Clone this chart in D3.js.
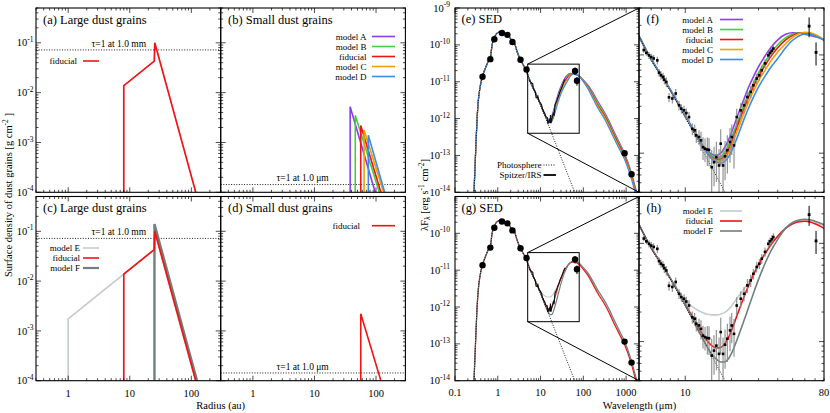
<!DOCTYPE html>
<html lang="en">
<head>
<meta charset="UTF-8" />
<title>Dust surface density and SED models</title>
<script src="https://d3js.org/d3.v7.min.js"></script>
<style>
  body { margin: 0; background: #ffffff; }
  svg { display: block; }
  svg text { font-family: "Liberation Serif", "Times New Roman", Times, "DejaVu Serif", serif; }
  .frame { fill: none; stroke: #000; stroke-width: 1.1; }
  .tick { stroke: #000; stroke-width: 0.7; }
  .tick-label { font-size: 10.5px; }
  .title { font-size: 12.5px; }
  .legend { font-size: 9px; }
  .axis-title { font-size: 10.5px; }
</style>
</head>
<body>
<svg id="chart" width="830" height="413"></svg>
<script>
// ---------- surface density profiles (radius in au, sigma in g cm^-2) ----------
const radiusDomain = [0.3, 300];
const sigmaDomain = [1e-4, 0.5];
const tauLarge = 0.072;     // tau=1 at 1.0 mm
const tauSmall = 1.43e-4;   // tau=1 at 1.0 um

const largeFidR = [8, 8, 25, 25.5, 118];
const largeFidS = [1e-4, 0.0138, 0.043, 0.1, 1e-4];
const largeER = [1, 1, 25, 25.5, 118];
const largeES = [1e-4, 1.74e-3, 0.043, 0.1, 1e-4];
const largeFR = [25.2, 25.2, 124];
const largeFS = [1e-4, 0.14, 1e-4];

const smallAR = [38, 38, 97];     const smallAS = [1e-4, 5.2e-3, 1e-4];
const smallBR = [46, 46, 113];    const smallBS = [1e-4, 3.5e-3, 1e-4];
const smallFidR = [56.5, 56.5, 120]; const smallFidS = [1e-4, 2.2e-3, 1e-4];
const smallCR = [64, 64, 133];    const smallCS = [1e-4, 1.77e-3, 1e-4];
const smallDR = [75, 75, 138];    const smallDS = [1e-4, 1.4e-3, 1e-4];

// ---------- SED (wavelength in um, lambda F_lambda in erg s^-1 cm^-2) ----------
const sedWlDomain = [0.1, 2000];
const sedFDomain = [1e-14, 1e-9];
const zoomWlDomain = [5, 80];
const zoomFDomain = [4e-13, 3e-11];

// stellar part shared by all models
const starWl = [0.27, 0.278, 0.304, 0.326, 0.35, 0.383, 0.435, 0.5, 0.6, 0.67, 0.74, 0.83, 0.99, 1.23, 1.47, 1.76, 2.03, 2.35, 2.8, 3.34, 3.9, 4.6];
const starF = [5e-15, 1e-14, 1.3e-13, 8.5e-13, 2.96e-12, 6.8e-12, 1.35e-11, 2.14e-11, 3.6e-11, 4.5e-11, 1.03e-10, 1.56e-10, 2.13e-10, 2.28e-10, 2.0e-10, 1.85e-10, 1.4e-10, 1.27e-10, 6.8e-11, 4.0e-11, 2.93e-11, 2.0e-11];

// photosphere tail beyond 5 um
const photTailWl = [5, 6, 7, 8, 10, 12, 15, 20, 30, 45, 60, 70];
const photTailF = [1.55e-11, 8.9e-12, 6.0e-12, 4.3e-12, 2.3e-12, 1.35e-12, 7.0e-13, 3.0e-13, 9.0e-14, 2.7e-14, 1.15e-14, 7.3e-15];

// model totals from 5 um on
const wlGrid = [5, 6, 7, 8, 9, 10, 11, 12, 13, 14, 15, 16, 17, 18, 19, 20, 22, 24, 26, 28, 30, 33, 36, 40, 45, 50, 55, 60, 65, 70, 80, 100, 130, 170, 220, 300, 400, 500, 700, 900, 1300, 1700, 2000];
const fluxFid = [1.55e-11, 9.0e-12, 6.2e-12, 4.4e-12, 3.2e-12, 2.4e-12, 1.85e-12, 1.45e-12, 1.18e-12, 1.0e-12, 9.0e-13, 8.6e-13, 8.7e-13, 9.4e-13, 1.08e-12, 1.3e-12, 1.95e-12, 2.8e-12, 3.8e-12, 4.9e-12, 6.1e-12, 7.8e-12, 9.6e-12, 1.18e-11, 1.42e-11, 1.58e-11, 1.66e-11, 1.68e-11, 1.65e-11, 1.58e-11, 1.42e-11, 1.05e-11, 7.0e-12, 4.0e-12, 2.3e-12, 1.3e-12, 7.0e-13, 4.0e-13, 1.8e-13, 1.0e-13, 3.1e-14, 1.0e-14, 6.0e-15];
const fluxA = [1.55e-11, 9.0e-12, 6.2e-12, 4.4e-12, 3.2e-12, 2.4e-12, 1.85e-12, 1.45e-12, 1.2e-12, 1.05e-12, 9.7e-13, 9.5e-13, 1.0e-12, 1.13e-12, 1.33e-12, 1.62e-12, 2.45e-12, 3.5e-12, 4.8e-12, 6.15e-12, 7.6e-12, 9.7e-12, 1.18e-11, 1.42e-11, 1.62e-11, 1.68e-11, 1.67e-11, 1.62e-11, 1.58e-11, 1.53e-11, 1.43e-11, 1.12e-11, 8.0e-12, 4.9e-12, 2.9e-12, 1.6e-12, 8.6e-13, 4.9e-13, 2.2e-13, 1.2e-13, 3.7e-14, 1.2e-14, 7.0e-15];
const fluxB = [1.55e-11, 9.0e-12, 6.2e-12, 4.4e-12, 3.2e-12, 2.4e-12, 1.85e-12, 1.45e-12, 1.19e-12, 1.02e-12, 9.3e-13, 9.0e-13, 9.2e-13, 1.01e-12, 1.18e-12, 1.42e-12, 2.12e-12, 3.04e-12, 4.12e-12, 5.3e-12, 6.6e-12, 8.45e-12, 1.04e-11, 1.27e-11, 1.5e-11, 1.63e-11, 1.67e-11, 1.66e-11, 1.62e-11, 1.56e-11, 1.42e-11, 1.08e-11, 7.5e-12, 4.4e-12, 2.6e-12, 1.45e-12, 7.8e-13, 4.4e-13, 2.0e-13, 1.1e-13, 3.4e-14, 1.1e-14, 6.5e-15];
const fluxC = [1.55e-11, 9.0e-12, 6.2e-12, 4.4e-12, 3.2e-12, 2.4e-12, 1.85e-12, 1.45e-12, 1.17e-12, 9.9e-13, 8.8e-13, 8.4e-13, 8.3e-13, 8.8e-13, 9.9e-13, 1.18e-12, 1.74e-12, 2.5e-12, 3.4e-12, 4.37e-12, 5.45e-12, 6.95e-12, 8.6e-12, 1.07e-11, 1.3e-11, 1.51e-11, 1.64e-11, 1.70e-11, 1.68e-11, 1.61e-11, 1.43e-11, 1.03e-11, 6.7e-12, 3.7e-12, 2.1e-12, 1.18e-12, 6.3e-13, 3.6e-13, 1.6e-13, 9.0e-14, 2.8e-14, 9.2e-15, 5.5e-15];
const fluxD = [1.55e-11, 9.0e-12, 6.2e-12, 4.4e-12, 3.2e-12, 2.4e-12, 1.85e-12, 1.45e-12, 1.17e-12, 9.8e-13, 8.6e-13, 8.1e-13, 7.9e-13, 8.2e-13, 9.0e-13, 1.05e-12, 1.5e-12, 2.17e-12, 2.95e-12, 3.8e-12, 4.73e-12, 6.05e-12, 7.45e-12, 9.2e-12, 1.18e-11, 1.41e-11, 1.56e-11, 1.63e-11, 1.62e-11, 1.56e-11, 1.41e-11, 1.0e-11, 6.3e-12, 3.4e-12, 1.9e-12, 1.05e-12, 5.6e-13, 3.2e-13, 1.45e-13, 8.2e-14, 2.5e-14, 8.5e-15, 5.0e-15];
const fluxE = [1.55e-11, 9.0e-12, 6.2e-12, 4.4e-12, 3.3e-12, 2.6e-12, 2.3e-12, 2.1e-12, 1.97e-12, 1.9e-12, 1.87e-12, 1.87e-12, 1.9e-12, 1.97e-12, 2.1e-12, 2.3e-12, 2.85e-12, 3.4e-12, 4.1e-12, 5.0e-12, 6.15e-12, 7.85e-12, 9.65e-12, 1.19e-11, 1.44e-11, 1.61e-11, 1.7e-11, 1.73e-11, 1.71e-11, 1.65e-11, 1.5e-11, 1.13e-11, 7.7e-12, 4.5e-12, 2.6e-12, 1.48e-12, 8.0e-13, 4.6e-13, 2.05e-13, 1.14e-13, 3.5e-14, 1.15e-14, 6.8e-15];
const fluxF = [1.55e-11, 9.0e-12, 6.2e-12, 4.4e-12, 3.2e-12, 2.35e-12, 1.78e-12, 1.35e-12, 1.07e-12, 8.7e-13, 7.3e-13, 6.6e-13, 6.2e-13, 6.2e-13, 6.6e-13, 7.6e-13, 1.1e-12, 1.6e-12, 2.3e-12, 3.2e-12, 4.3e-12, 6.2e-12, 8.3e-12, 1.1e-11, 1.43e-11, 1.63e-11, 1.73e-11, 1.76e-11, 1.74e-11, 1.68e-11, 1.55e-11, 1.18e-11, 8.2e-12, 4.9e-12, 2.85e-12, 1.62e-12, 8.8e-13, 5.0e-13, 2.25e-13, 1.25e-13, 3.8e-14, 1.25e-14, 7.3e-15];

// Spitzer/IRS spectrum
const irsWl = [5.37, 5.58, 5.81, 6.01, 6.23, 6.58, 6.75, 6.95, 7.17, 7.31, 7.53, 7.84, 8.24, 8.67, 9.11, 9.43, 9.82, 10.16, 10.58, 11.12, 11.52, 11.8, 12.29, 12.66, 13.05, 13.45, 13.92, 14.28, 14.87, 15.39, 15.94, 16.59, 17.02, 17.62, 18.16, 18.79, 19.56, 20.07, 20.77, 21.63, 22.97, 24.13, 25.36, 26.68, 27.74, 29.19, 30.36, 31.47, 33.06, 34.74, 35.64, 36.56, 37.44];
const irsF = [1.12e-11, 1.05e-11, 9.9e-12, 9.5e-12, 9.2e-12, 8.8e-12, 6.6e-12, 6.2e-12, 5.97e-12, 5.6e-12, 5.3e-12, 3.7e-12, 3.6e-12, 4.05e-12, 3.07e-12, 2.84e-12, 2.73e-12, 2.56e-12, 2.33e-12, 1.77e-12, 1.71e-12, 1.52e-12, 1.46e-12, 1.35e-12, 1.15e-12, 1.11e-12, 1.09e-12, 1.08e-12, 7.2e-13, 8.1e-13, 9.1e-13, 7.5e-13, 1.25e-12, 7.5e-13, 9.3e-13, 1.07e-12, 1.3e-12, 1.46e-12, 1.2e-12, 2.33e-12, 2.73e-12, 3.07e-12, 3.73e-12, 4.2e-12, 4.9e-12, 5.75e-12, 6.2e-12, 6.98e-12, 8.2e-12, 9.9e-12, 1.05e-11, 1.1e-11, 1.16e-11];
const irsErr = [0.7e-12, 0.7e-12, 0.8e-12, 0.8e-12, 0.8e-12, 0.8e-12, 0.6e-12, 0.6e-12, 0.6e-12, 0.6e-12, 0.6e-12, 0.4e-12, 0.4e-12, 0.45e-12, 0.35e-12, 0.3e-12, 0.3e-12, 0.3e-12, 0.3e-12, 0.25e-12, 0.25e-12, 0.25e-12, 0.25e-12, 0.3e-12, 0.3e-12, 0.3e-12, 0.35e-12, 0.35e-12, 0.35e-12, 0.35e-12, 0.4e-12, 0.35e-12, 0.5e-12, 0.35e-12, 0.4e-12, 0.45e-12, 0.5e-12, 0.5e-12, 0.5e-12, 0.5e-12, 0.5e-12, 0.5e-12, 0.6e-12, 0.6e-12, 0.6e-12, 0.7e-12, 0.7e-12, 0.8e-12, 0.9e-12, 1.0e-12, 1.0e-12, 1.1e-12, 1.1e-12];

// photometry
const photWl = [0.44, 0.67, 0.83, 1.25, 1.68, 2.2, 3.4, 4.7, 64, 71, 920, 1340];
const photF = [1.37e-11, 4.1e-11, 1.42e-10, 2.1e-10, 1.87e-10, 1.2e-10, 3.95e-11, 2.15e-11, 1.96e-11, 1.06e-11, 1.15e-13, 3.1e-14];
const photErr = [0, 0, 0, 0, 0, 0, 0, 0, 4.5e-12, 2.8e-12, 0, 0];

const colors = { A: "#8c3cf0", B: "#3cd23c", fid: "#f01414", C: "#f0a000", D: "#3c8ce6", E: "#c4cccc", F: "#6e8080" };

// ---------- helpers ----------
const svg = d3.select("#chart");
const defs = svg.append("defs");
let clipCount = 0;

function panel(box, xDomain, yDomain) {
  const [x0, x1, y0, y1] = box;
  const x = d3.scaleLog().domain(xDomain).range([x0, x1]);
  const y = d3.scaleLog().domain(yDomain).range([y1, y0]);
  const id = "clip" + clipCount++;
  defs.append("clipPath").attr("id", id).append("rect")
    .attr("x", x0).attr("y", y0).attr("width", x1 - x0).attr("height", y1 - y0);
  const plot = svg.append("g").attr("clip-path", `url(#${id})`);
  return { x, y, plot, box };
}

function logTicks(domain) {
  const out = [];
  const lo = Math.floor(Math.log10(domain[0])), hi = Math.ceil(Math.log10(domain[1]));
  for (let k = lo; k <= hi; k++) {
    for (let m = 1; m <= 9; m++) {
      const v = m * Math.pow(10, k);
      if (v >= domain[0] * 0.999 && v <= domain[1] * 1.001) out.push({ v, major: m === 1 });
    }
  }
  return out;
}

function frame(p) {
  const [x0, x1, y0, y1] = p.box;
  const g = svg.append("g");
  logTicks(p.x.domain()).forEach(t => {
    const px = p.x(t.v), len = t.major ? 5 : 2.5;
    g.append("line").attr("class", "tick").attr("x1", px).attr("x2", px).attr("y1", y1).attr("y2", y1 - len);
    g.append("line").attr("class", "tick").attr("x1", px).attr("x2", px).attr("y1", y0).attr("y2", y0 + len);
  });
  logTicks(p.y.domain()).forEach(t => {
    const py = p.y(t.v), len = t.major ? 5 : 2.5;
    g.append("line").attr("class", "tick").attr("x1", x0).attr("x2", x0 + len).attr("y1", py).attr("y2", py);
    g.append("line").attr("class", "tick").attr("x1", x1).attr("x2", x1 - len).attr("y1", py).attr("y2", py);
  });
  g.append("rect").attr("class", "frame")
    .attr("x", x0).attr("y", y0).attr("width", x1 - x0).attr("height", y1 - y0);
}

function yDecades(p, exps, xRight) {
  exps.forEach(e => {
    const t = svg.append("text").attr("class", "tick-label")
      .attr("x", xRight).attr("y", p.y(Math.pow(10, e)) + 3.6).attr("text-anchor", "end");
    t.append("tspan").text("10");
    t.append("tspan").attr("dy", -4.5).attr("font-size", 7.5).text(String(e));
  });
}

function xLabels(p, vals, texts, yBase) {
  vals.forEach((v, i) => {
    svg.append("text").attr("class", "tick-label")
      .attr("x", p.x(v)).attr("y", yBase).attr("text-anchor", "middle").text(texts[i]);
  });
}

function title(x, y, txt) {
  svg.append("text").attr("class", "title").attr("x", x).attr("y", y).text(txt);
}

function legend(items, xText, y0, dy, lx0, lx1) {
  items.forEach((it, i) => {
    const y = y0 + i * dy;
    svg.append("text").attr("class", "legend").attr("x", xText).attr("y", y + 3.1)
      .attr("text-anchor", "end").text(it.name);
    svg.append("line").attr("x1", lx0).attr("x2", lx1).attr("y1", y).attr("y2", y)
      .attr("stroke", it.color).attr("stroke-width", it.width || 1.6)
      .attr("stroke-dasharray", it.dash || null);
  });
}

const pairs = (xs, ys) => xs.map((v, i) => [v, ys[i]]);

function drawPoly(p, xs, ys, color, w) {
  const line = d3.line().x(d => p.x(d[0])).y(d => p.y(d[1]));
  p.plot.append("path").datum(pairs(xs, ys)).attr("d", line)
    .attr("fill", "none").attr("stroke", color).attr("stroke-width", w);
}

function drawHLine(p, v) {
  const [x0, x1] = p.x.range();
  p.plot.append("line").attr("x1", x0).attr("x2", x1).attr("y1", p.y(v)).attr("y2", p.y(v))
    .attr("stroke", "#000").attr("stroke-width", 0.9).attr("stroke-dasharray", "1,1.6");
}

function tauText(x, y, unit) {
  svg.append("text").attr("class", "legend").attr("x", x).attr("y", y)
    .style("font-size", "9.5px").text("\u03c4=1 at 1.0 " + unit);
}

// ---------- layout ----------
const rowTop = [8, 192.3], rowBot = [196.5, 380.7];
const colA = [36, 220.7], colB = [220.7, 405.4], colE = [455, 639], colF = [639, 824];

// ---------- left block: surface densities ----------
const pa = panel([colA[0], colA[1], rowTop[0], rowTop[1]], radiusDomain, sigmaDomain);
const pb = panel([colB[0], colB[1], rowTop[0], rowTop[1]], radiusDomain, sigmaDomain);
const pc = panel([colA[0], colA[1], rowBot[0], rowBot[1]], radiusDomain, sigmaDomain);
const pd = panel([colB[0], colB[1], rowBot[0], rowBot[1]], radiusDomain, sigmaDomain);

drawHLine(pa, tauLarge); drawHLine(pc, tauLarge);
drawHLine(pb, tauSmall); drawHLine(pd, tauSmall);

drawPoly(pa, largeFidR, largeFidS, colors.fid, 1.7);

drawPoly(pb, smallAR, smallAS, colors.A, 1.6);
drawPoly(pb, smallBR, smallBS, colors.B, 1.6);
drawPoly(pb, smallFidR, smallFidS, colors.fid, 1.6);
drawPoly(pb, smallCR, smallCS, colors.C, 1.6);
drawPoly(pb, smallDR, smallDS, colors.D, 1.6);

drawPoly(pc, largeER, largeES, colors.E, 1.7);
drawPoly(pc, largeFR, largeFS, colors.F, 2.4);
drawPoly(pc, largeFidR, largeFidS, colors.fid, 1.7);

drawPoly(pd, smallFidR, smallFidS, colors.fid, 1.6);

[pa, pb, pc, pd].forEach(frame);

yDecades(pa, [-1, -2, -3, -4], 33.5);
yDecades(pc, [-1, -2, -3, -4], 33.5);
xLabels(pc, [1, 10, 100], ["1", "10", "100"], 396.5);
xLabels(pd, [1, 10, 100], ["1", "10", "100"], 396.5);

title(43, 23.5, "(a) Large dust grains");
title(228, 23.5, "(b) Small dust grains");
title(43, 212, "(c) Large dust grains");
title(228, 212, "(d) Small dust grains");

tauText(91.5, 46.5, "mm");
tauText(91.5, 234.8, "mm");
tauText(276.5, 180.5, "\u03bcm");
tauText(276.5, 369.5, "\u03bcm");

legend([{ name: "fiducial", color: colors.fid }], 77, 61, 10, 83, 99);
legend([
  { name: "model A", color: colors.A }, { name: "model B", color: colors.B },
  { name: "fiducial", color: colors.fid }, { name: "model C", color: colors.C },
  { name: "model D", color: colors.D }
], 366.5, 36.5, 10, 372, 395);
legend([
  { name: "model E", color: colors.E }, { name: "fiducial", color: colors.fid },
  { name: "model F", color: colors.F, width: 2.2 }
], 80, 248, 10, 83, 99);
legend([{ name: "fiducial", color: colors.fid }], 360, 225.7, 10, 372, 395);

// axis titles, left block
const yl = svg.append("text").attr("class", "axis-title").attr("text-anchor", "middle")
  .attr("transform", "translate(11.5,195) rotate(-90)");
yl.append("tspan").text("Surface density of dust grains [g cm");
yl.append("tspan").attr("dy", -4).attr("font-size", 7.5).text("-2");
yl.append("tspan").attr("dy", 4).text(" ]");
svg.append("text").attr("class", "axis-title").attr("x", 220.7).attr("y", 408.5)
  .attr("text-anchor", "middle").text("Radius (au)");

// ---------- right block: SEDs ----------
const pe = panel([colE[0], colE[1], rowTop[0], rowTop[1]], sedWlDomain, sedFDomain);
const pf = panel([colF[0], colF[1], rowTop[0], rowTop[1]], zoomWlDomain, zoomFDomain);
const pg = panel([colE[0], colE[1], rowBot[0], rowBot[1]], sedWlDomain, sedFDomain);
const ph = panel([colF[0], colF[1], rowBot[0], rowBot[1]], zoomWlDomain, zoomFDomain);

const starPart = pairs(starWl, starF);
const modelSeries = f => starPart.concat(pairs(wlGrid, f));
const photosphere = starPart.concat(pairs(photTailWl, photTailF));
const irs = irsWl.map((w, i) => ({ w, f: irsF[i], e: irsErr[i] }));
const phot = photWl.map((w, i) => ({ w, f: photF[i], e: photErr[i] }));

function curve(p, data, color, w, dash) {
  const line = d3.line().x(d => p.x(d[0])).y(d => p.y(d[1])).curve(d3.curveMonotoneX);
  p.plot.append("path").datum(data).attr("d", line).attr("fill", "none")
    .attr("stroke", color).attr("stroke-width", w).attr("stroke-dasharray", dash || null);
}

function wideSed(p, models) {
  models.forEach(m => curve(p, modelSeries(m.f), m.color, 1.2));
  const irsLine = d3.line().x(d => p.x(d.w)).y(d => p.y(d.f));
  p.plot.append("path").datum(irs).attr("d", irsLine).attr("fill", "none")
    .attr("stroke", "#111").attr("stroke-width", 1.1);
  curve(p, photosphere, "#000", 0.9, "1,1.5");
  phot.filter(d => d.e > 0).forEach(d => {
    p.plot.append("line").attr("x1", p.x(d.w)).attr("x2", p.x(d.w))
      .attr("y1", p.y(d.f - d.e)).attr("y2", p.y(d.f + d.e)).attr("stroke", "#000").attr("stroke-width", 1);
  });
  p.plot.selectAll("circle.phot").data(phot).join("circle").attr("class", "phot")
    .attr("cx", d => p.x(d.w)).attr("cy", d => p.y(d.f)).attr("r", 3.2).attr("fill", "#000");
  // zoom box and connectors
  const bx0 = p.x(zoomWlDomain[0]), bx1 = p.x(zoomWlDomain[1]);
  const by0 = p.y(zoomFDomain[1]), by1 = p.y(zoomFDomain[0]);
  const [x0, x1] = p.x.range(), [yb, yt] = p.y.range();
  svg.append("rect").attr("x", bx0).attr("y", by0).attr("width", bx1 - bx0).attr("height", by1 - by0)
    .attr("fill", "none").attr("stroke", "#000").attr("stroke-width", 1);
  svg.append("line").attr("x1", bx0).attr("y1", by0).attr("x2", x1).attr("y2", yt)
    .attr("stroke", "#000").attr("stroke-width", 1);
  svg.append("line").attr("x1", bx0).attr("y1", by1).attr("x2", x1).attr("y2", yb)
    .attr("stroke", "#000").attr("stroke-width", 1);
}

function zoomSed(p, models) {
  models.forEach(m => curve(p, modelSeries(m.f), m.color, 1.6));
  curve(p, photosphere, "#000", 0.9, "1,1.5");
  irs.forEach(d => {
    p.plot.append("line").attr("x1", p.x(d.w)).attr("x2", p.x(d.w))
      .attr("y1", p.y(Math.max(d.f - d.e, 1e-14))).attr("y2", p.y(d.f + d.e))
      .attr("stroke", "#8a8a8a").attr("stroke-width", 1.1);
  });
  p.plot.selectAll("rect.irs").data(irs).join("rect").attr("class", "irs")
    .attr("x", d => p.x(d.w) - 1.3).attr("y", d => p.y(d.f) - 1.3)
    .attr("width", 2.6).attr("height", 2.6).attr("fill", "#000");
  phot.filter(d => d.e > 0).forEach(d => {
    p.plot.append("line").attr("x1", p.x(d.w)).attr("x2", p.x(d.w))
      .attr("y1", p.y(d.f - d.e)).attr("y2", p.y(d.f + d.e)).attr("stroke", "#000").attr("stroke-width", 1);
    p.plot.append("rect").attr("x", p.x(d.w) - 1.4).attr("y", p.y(d.f) - 1.4)
      .attr("width", 2.8).attr("height", 2.8).attr("fill", "#000");
  });
}

const topModels = [
  { name: "model A", f: fluxA, color: colors.A }, { name: "model B", f: fluxB, color: colors.B },
  { name: "fiducial", f: fluxFid, color: colors.fid }, { name: "model C", f: fluxC, color: colors.C },
  { name: "model D", f: fluxD, color: colors.D }
];
const botModels = [
  { name: "model E", f: fluxE, color: colors.E }, { name: "fiducial", f: fluxFid, color: colors.fid },
  { name: "model F", f: fluxF, color: colors.F }
];

wideSed(pe, topModels);
zoomSed(pf, topModels);
wideSed(pg, botModels);
zoomSed(ph, botModels);

[pe, pf, pg, ph].forEach(frame);

yDecades(pe, [-9, -10, -11, -12, -13, -14], 450);
yDecades(pg, [-10, -11, -12, -13, -14], 450);
xLabels(pg, [0.1, 1, 10, 100, 1000], ["0.1", "1", "10", "100", "1000"], 396);
xLabels(ph, [10, 80], ["10", "80"], 396);

title(461.5, 23, "(e) SED");
title(646.5, 23, "(f)");
title(461.5, 212, "(g) SED");
title(646.5, 212, "(h)");

legend([
  { name: "Photosphere", color: "#000", width: 0.9, dash: "1,1.5" },
  { name: "Spitzer/IRS", color: "#000", width: 1.8 }
], 541.5, 165, 10, 543.5, 556);
legend(topModels.map(m => ({ name: m.name, color: m.color })), 713, 19.5, 10, 720, 743);
legend(botModels.map(m => ({ name: m.name, color: m.color })), 713, 211, 10, 720, 742);

const yr = svg.append("text").attr("class", "axis-title").attr("text-anchor", "middle")
  .attr("transform", "translate(427.5,195) rotate(-90)");
yr.append("tspan").text("\u03bbF");
yr.append("tspan").attr("dy", 2.5).attr("font-size", 7.5).text("\u03bb");
yr.append("tspan").attr("dy", -2.5).text(" [erg s");
yr.append("tspan").attr("dy", -4).attr("font-size", 7.5).text("-1");
yr.append("tspan").attr("dy", 4).text(" cm");
yr.append("tspan").attr("dy", -4).attr("font-size", 7.5).text("-2");
yr.append("tspan").attr("dy", 4).text("]");
svg.append("text").attr("class", "axis-title").attr("x", 639.5).attr("y", 408.5)
  .attr("text-anchor", "middle").text("Wavelength (\u03bcm)");
</script>
</body>
</html>
